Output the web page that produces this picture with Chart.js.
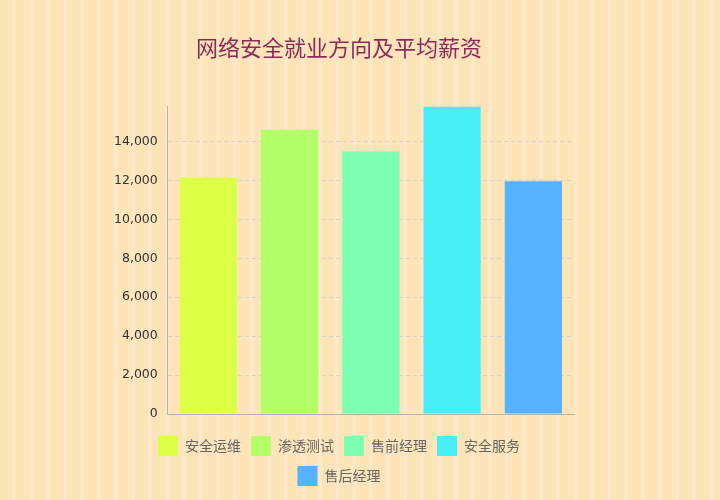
<!DOCTYPE html>
<html>
<head>
<meta charset="utf-8">
<script src="https://cdn.jsdelivr.net/npm/chart.js@4.4.1/dist/chart.umd.min.js"></script>
<style>
html,body{margin:0;padding:0;width:720px;height:500px;overflow:hidden;}
body{
  background-color:#fce3b8;
  background-image:repeating-linear-gradient(90deg,
    #fce3b8 0px,#fce3b8 11px,#fee9c7 13px,#fee9c7 15px,#fce3b8 17px);
}
canvas{display:block;}
</style>
</head>
<body>
<canvas id="c" width="720" height="500"></canvas>
<script>
const titleText = '网络安全就业方向及平均薪资';
const categories = ['安全运维', '渗透测试', '售前经理', '安全服务', '售后经理'];
const salaries = [12150, 14600, 13500, 15800, 11950];
const barColors = ['#ddff45', '#b3ff6a', '#7cffb2', '#48eef6', '#55b2ff'];
const yTicks = [0, 2000, 4000, 6000, 8000, 10000, 12000, 14000];
const yMax = 15800;

new Chart(document.getElementById('c'), {
  type: 'bar',
  data: {
    labels: categories,
    datasets: [{
      label: '平均薪资',
      data: salaries,
      backgroundColor: barColors,
      borderWidth: 0,
      barPercentage: 0.88,
      categoryPercentage: 0.8
    }]
  },
  options: {
    responsive: false,
    animation: false,
    layout: { padding: { top: 24, left: 104, right: 146, bottom: 4 } },
    plugins: {
      title: {
        display: true,
        text: titleText,
        color: '#8f2a58',
        font: { family: '"Noto Sans CJK SC", sans-serif', size: 22, weight: 'normal' },
        padding: { top: 10, bottom: 46 }
      },
      legend: {
        display: true,
        position: 'bottom',
        labels: {
          boxWidth: 20,
          boxHeight: 20,
          padding: 10,
          color: '#666',
          font: { family: '"Noto Sans CJK SC", sans-serif', size: 14 },
          generateLabels: (chart) => categories.map((c, i) => ({
            text: c,
            fillStyle: barColors[i],
            strokeStyle: barColors[i],
            fontColor: '#666',
            lineWidth: 0,
            hidden: false,
            index: i,
            datasetIndex: 0
          }))
        },
        onClick: () => {}
      },
      tooltip: { enabled: false }
    },
    scales: {
      x: {
        grid: { display: false },
        border: { display: true, color: '#b4b4b4', width: 1 },
        ticks: { display: false },
        afterFit: (s) => { s.height = 12; }
      },
      y: {
        min: 0,
        ticks: {
          color: '#333',
          padding: 10,
          font: { family: '"DejaVu Sans", Verdana, sans-serif', size: 12.5 }
        },
        afterBuildTicks: (s) => {
          s.ticks = yTicks.map(v => ({ value: v }));
          s.min = 0;
          s.max = yMax;
        },
        grid: {
          color: 'rgba(205,205,205,0.8)',
          drawTicks: false,
          lineWidth: 1
        },
        border: { display: true, color: '#b4b4b4', width: 1, dash: [4, 3] }
      }
    }
  }
});
</script>
</body>
</html>
